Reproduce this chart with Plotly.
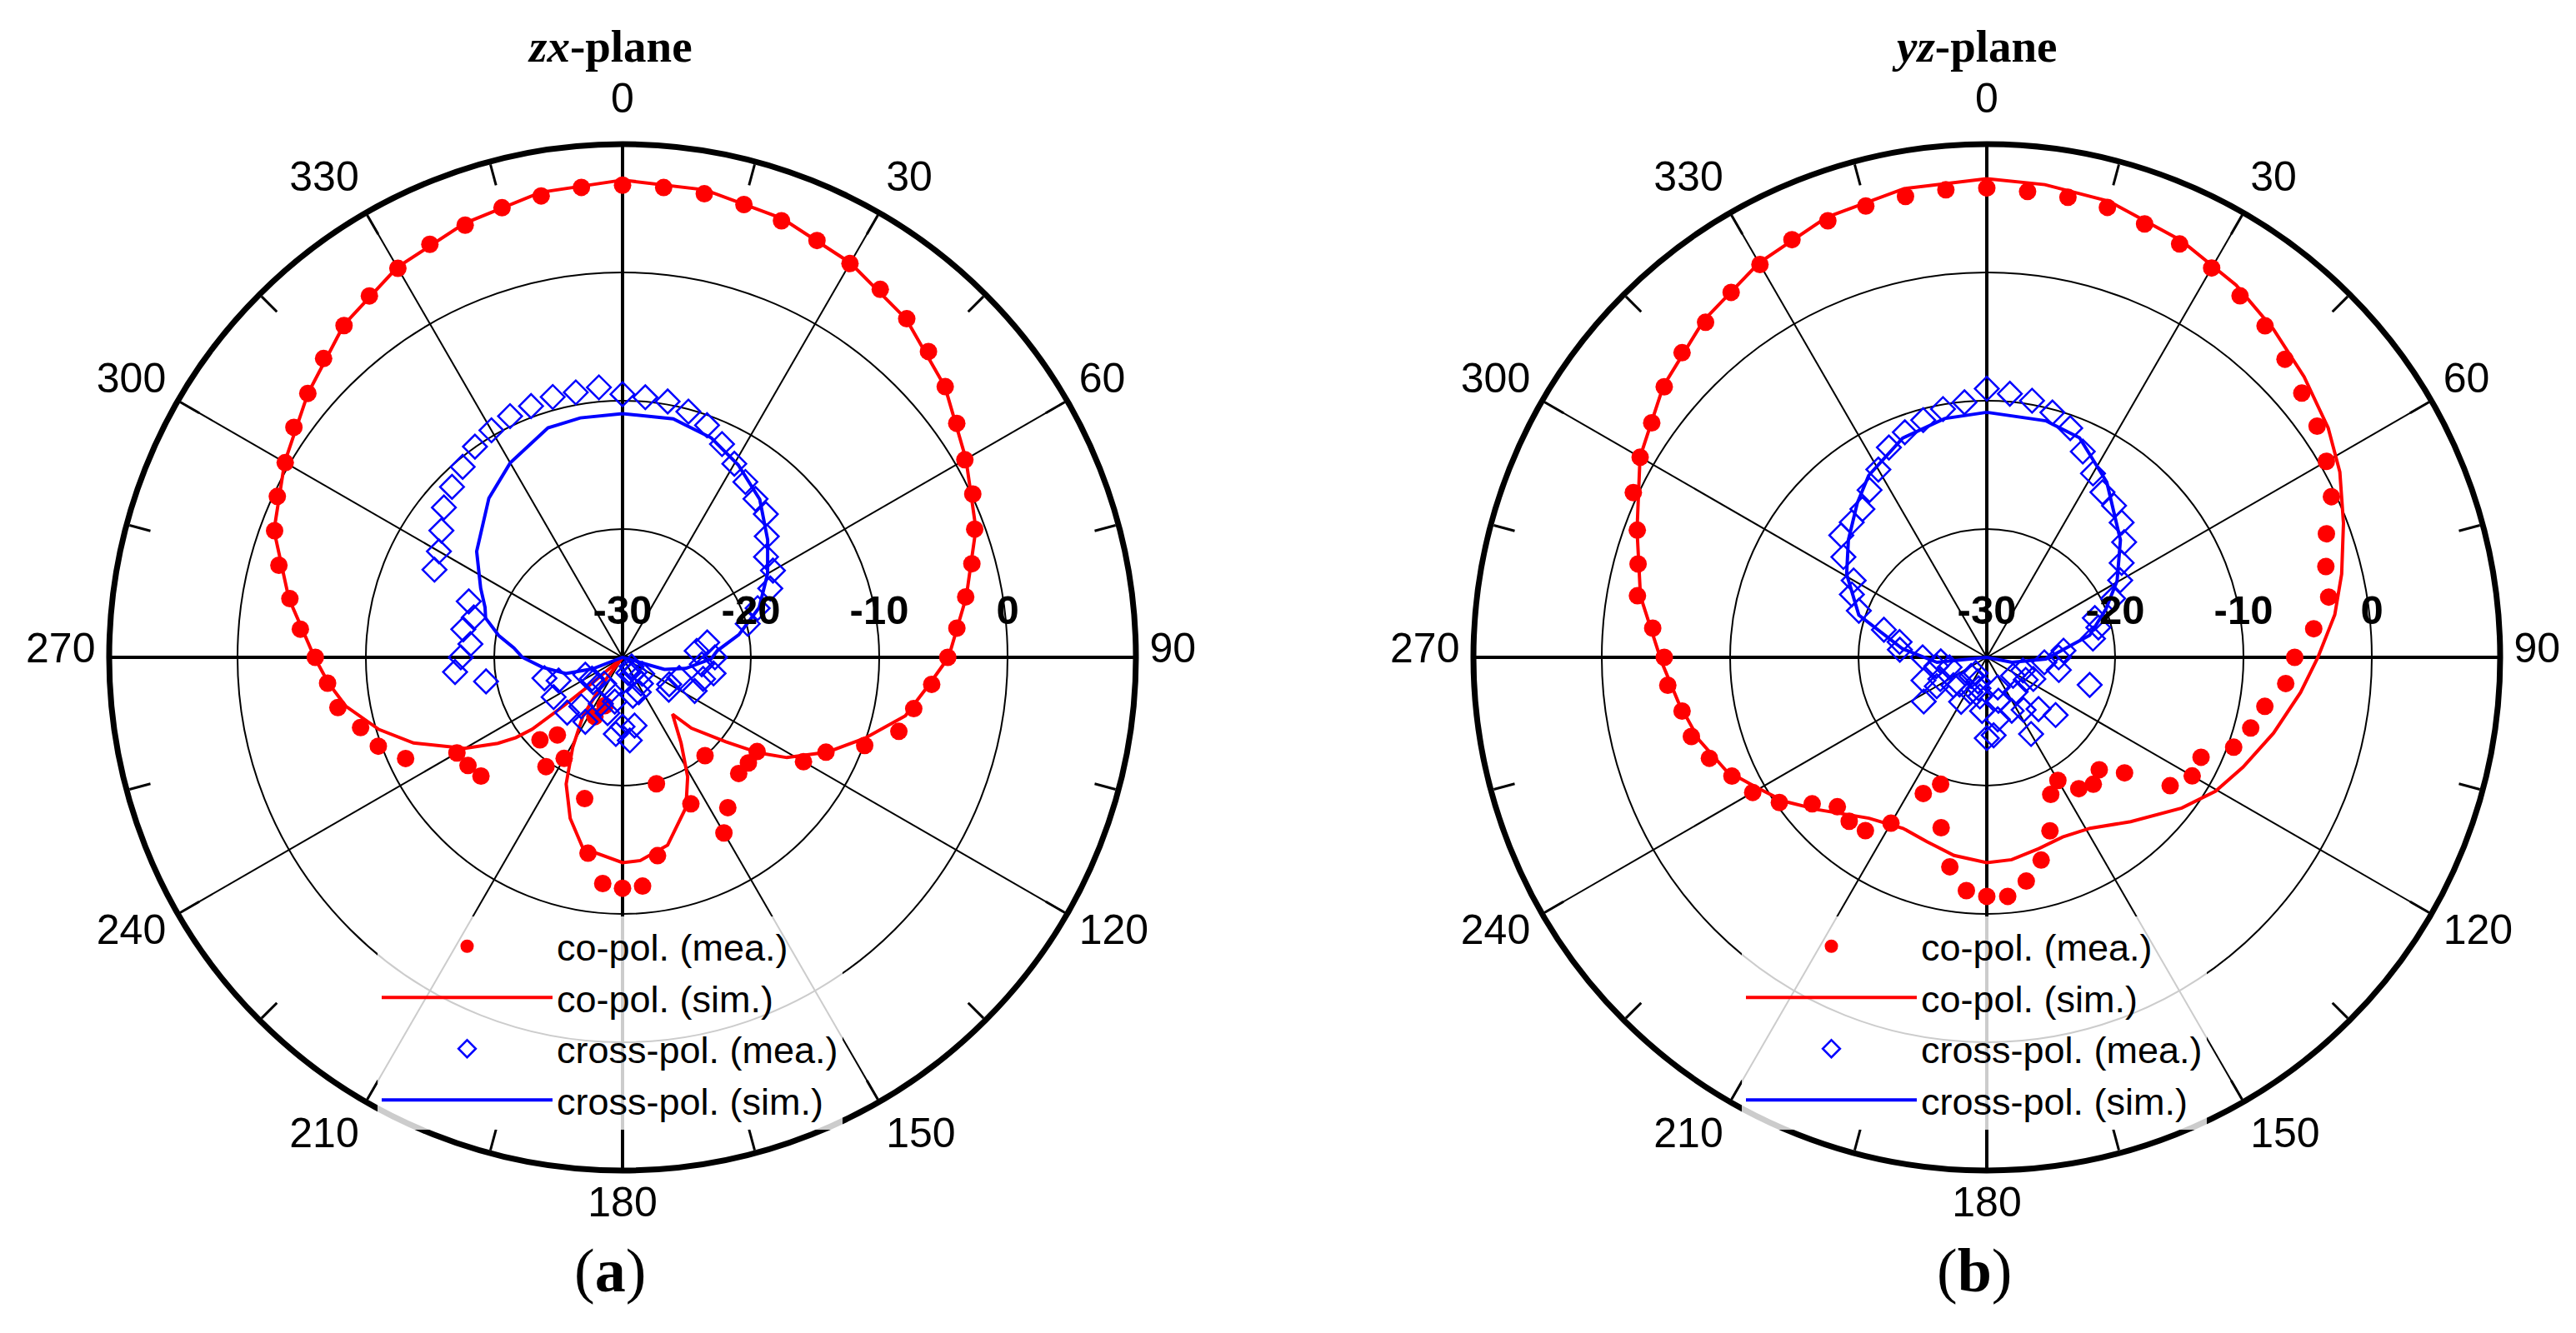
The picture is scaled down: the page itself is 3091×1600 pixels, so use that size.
import plotly.graph_objects as go

W, H = 3091, 1600
R = 616
CL = (739, 781)
CR = (2376, 781)
RMIN, RMAX = -30, 10
LABEL_LIFT = 12   # px: angular tick-label ring drawn slightly higher, as in the reference
LABEL_EXTRA = 16  # px: angular tick-label ring slightly larger than the plot ring

theta5 = list(range(0, 360, 5))

# ---------------- zx-plane (a) ----------------
zx_co_mea = [6.8, 6.76, 6.69, 6.54, 6.21, 5.85, 5.44, 5.01, 4.45, 3.71, 2.82, 1.79,
             0.80, 0.11, -0.80, -1.82, -2.85, -3.85, -4.66, -5.82, -6.96, -7.71, -9.92, -12.51,
             -13.72, -17.2, -17.2, -17.2, -20.0, -15.7, -14.2, -17.4, None, -19.8, -14.3, -12.1,
             -12.0, -12.3, -14.5, -18.6, -26.0, -24.9, -20.9, -19.6, -22.1, -20.9, -15.6, -15.3,
             -15.1, -11.35, -9.75, -8.87, -7.48, -6.93, -6.06, -4.80, -3.68, -2.28, -1.15, -0.32,
             0.35, 1.26, 2.01, 2.94, 3.76, 4.39, 5.01, 5.52, 5.85, 6.28, 6.52, 6.77]

zx_co_sim_theta = [0, 10, 20, 30, 40, 50, 60, 70, 80, 90, 95, 101.7, 108.5, 114.8, 121.4, 125,
                   129.3, 135.8, 138.7, 145.7, 151.4, 157.1, 166.5, 175, 180, 191.7, 198, 204,
                   209, 214, 217, 220, 228, 229.5, 230.5, 231.5, 233, 235.4, 240, 247.7, 253.5,
                   260, 265, 270, 280, 290, 300, 310, 320, 330, 340, 350, 360]
zx_co_sim = [7.2, 7.0, 6.4, 5.5, 4.4, 2.8, 0.9, -0.7, -2.8, -4.6, -6.0, -7.5, -10.1, -12.4,
             -15.0, -17.0, -19.6, -22.3, -24.1, -21.9, -19.4, -17.3, -14.95, -14.1, -14.0,
             -14.8, -16.8, -19.2, -22.0, -24.5, -27.5, -30, -30, -27.0, -24.0, -21.0, -19.6,
             -18.2, -15.8, -12.4, -10.2, -8.1, -7.0, -6.0, -3.6, -1.1, 0.4, 2.0, 3.8, 5.1,
             6.0, 6.8, 7.2]

zx_cx_mea = [-9.49, -9.65, -9.75, -10.17, -10.75, -11.66, -12.58, -13.31, -13.88, -14.21, -15.33, -16.35,
             -16.47, -17.3, -18.8, -19.9, -23.3, -24.2, -22.8, -23.8, -22.8, -23.5, -25.3, -23.8,
             -25.8, -25.6, -28.0, -29.0, -28.5, -27.5, -28.5, -27.0, -28.7, -26.9, -24.6, -23.5,
             -24.6, -24.0, -26.5, -25.5, -27.2, -26.0, -24.2, -27.5, -25.0, -23.9, -27.0, -27.1,
             -23.8, -26.8, -24.7, -23.7, -19.2, -16.9, -17.4, -18.1, -17.4, -18.0, -17.25, -13.83,
             -13.48, -12.77, -11.83, -11.21, -10.62, -9.95, -9.57, -9.26, -9.16, -8.99, -9.03, -8.88]

zx_cx_sim_theta = [0, 12, 22, 31, 41, 51, 60, 70, 79, 86, 91, 100, 106, 110, 245, 249, 254,
                   263, 270, 275, 280, 286, 290, 296, 306, 320, 330, 342, 350, 360]
zx_cx_sim = [-11.0, -11.0, -11.55, -12.5, -13.7, -15.45, -16.95, -18.67, -20.77, -22.6, -23.1,
             -25.0, -26.6, -30, -30, -27.5, -25.4, -23.7, -22.2, -21.5, -20.2, -18.9, -18.6,
             -17.7, -15.95, -13.8, -12.5, -11.2, -11.05, -11.0]

# ---------------- yz-plane (b) ----------------
yz_co_mea = [6.58, 6.45, 6.41, 6.31, 5.95, 5.55, 5.04, 4.40, 3.73, 2.86, 2.04, 1.42,
             0.55, -0.37, -1.84, -2.65, -2.95, -4.43, -6.01, -6.62, -8.0, -8.71, -9.53, -11.58,
             -11.52, -12.56, -15.99, -17.61, -17.09, -17.5, -18.92, -18.21, -15.61, -13.64, -12.29, -11.3,
             -11.37, -11.75, -13.42, -16.25, -19.48, -18.29, -15.07, -13.51, -13.32, -13.53, -12.24, -10.27,
             -8.94, -8.09, -7.0, -6.17, -5.89, -5.05, -4.87, -3.87, -2.36, -1.87, -1.02, 0.39,
             1.19, 1.87, 2.81, 3.58, 4.09, 4.73, 5.35, 5.92, 6.21, 6.42, 6.48, 6.58]

yz_co_sim_theta = [0, 7, 15, 25, 33.8, 41.1, 48.5, 56.1, 62.3, 69.4, 76.8, 83, 90, 96.4, 104.8,
                   113.2, 120.3, 127.7, 138.8, 148.9, 157.1, 164.8, 173, 180, 189.4, 198, 206.1,
                   216.2, 227.9, 234.6, 240.5, 246.5, 254, 261.6, 269.2, 280, 290, 300, 310, 320,
                   330, 340, 350, 360]
yz_co_sim = [7.3, 7.12, 6.8, 5.84, 4.92, 3.96, 3.01, 2.05, 1.07, -0.31, -1.6, -2.68, -4.2, -5.4,
             -6.89, -8.28, -9.34, -10.8, -12.98, -14.44, -14.8, -14.55, -14.11, -14.0, -14.35,
             -14.9, -15.16, -14.46, -12.29, -10.63, -9.4, -7.85, -6.67, -5.73, -4.66, -2.6, -1.0,
             1.2, 2.9, 4.3, 5.5, 6.5, 7.1, 7.3]

yz_cx_mea = [-9.06, -9.38, -9.69, -10.24, -10.99, -12.3, -13.45, -14.29, -14.57, -15.14, -16.03, -17.17,
             -18.0, -19.14, -21.04, -21.0, -21.6, -24.0, -24.4, -25.5, -24.3, -21.7, -27.0, -26.0,
             -26.5, -27.5, -23.0, -24.3, -26.5, -25.0, -23.1, -25.4, -27.5, -26.5, -25.1, -23.9,
             -23.7, -25.8, -26.9, -27.5, -28.0, -27.0, -26.0, -28.5, -28.1, -27.0, -26.6, -24.0,
             -25.5, -26.0, -24.75, -27.0, -26.0, -26.4, -25.0, -23.2, -23.1, -21.7, -19.39, -18.4,
             -18.02, -16.36, -15.2, -15.12, -14.92, -14.08, -13.1, -11.95, -11.33, -10.86, -10.35, -10.05]

yz_cx_sim_theta = [0, 14, 22.9, 34.4, 48.7, 59.6, 68, 77.9, 91.6, 101, 108, 258, 264.2, 275.8,
                   288.3, 300.7, 310.3, 320, 327, 339, 350, 360]
yz_cx_sim = [-10.9, -11.0, -11.43, -13.45, -16.14, -18.23, -20.0, -21.8, -25.4, -28.0, -30, -30,
             -26.1, -23.4, -19.5, -17.3, -15.86, -14.3, -13.1, -11.7, -11.1, -10.9]

ang_ticks = list(range(0, 360, 30))
ang_ticktext = [str(a) for a in ang_ticks]
minor_ticks = list(range(0, 360, 15))
rad_ticks = [-30, -20, -10, 0]
rad_text = ["-30", "-20", "-10", "0"]
legend_names = ["co-pol. (mea.)", "co-pol. (sim.)", "cross-pol. (mea.)", "cross-pol. (sim.)"]

RED = "#FF0000"
BLUE = "#0000FF"
SANS = "Liberation Sans, Arial, sans-serif"
SERIF = "Liberation Serif, Times New Roman, serif"


def dom(c, lift=0, extra=0):
    cx, cy = c
    cy = cy - lift
    r = R + extra
    return dict(x=[(cx - r) / W, (cx + r) / W], y=[(H - cy - r) / H, (H - cy + r) / H])


fig = go.Figure()


def add_dummy(sp):
    fig.add_trace(go.Scatterpolar(r=[], theta=[], subplot=sp, showlegend=False, hoverinfo="skip"))


for sp in ["polar", "polar2", "polar3", "polar4", "polar7", "polar8"]:
    add_dummy(sp)


def add_data(sp, lg, co_sim_t, co_sim, co_mea, cx_sim_t, cx_sim, cx_mea):
    fig.add_trace(go.Scatterpolar(theta=co_sim_t, r=co_sim, mode="lines", name=legend_names[1],
                                  line=dict(color=RED, width=4), subplot=sp, legend=lg, legendrank=2))
    fig.add_trace(go.Scatterpolar(theta=theta5, r=co_mea, mode="markers", name=legend_names[0],
                                  marker=dict(symbol="circle", size=21, color=RED), subplot=sp,
                                  legend=lg, legendrank=1))
    fig.add_trace(go.Scatterpolar(theta=cx_sim_t, r=cx_sim, mode="lines", name=legend_names[3],
                                  line=dict(color=BLUE, width=4), subplot=sp, legend=lg, legendrank=4))
    fig.add_trace(go.Scatterpolar(theta=theta5, r=cx_mea, mode="markers", name=legend_names[2],
                                  marker=dict(symbol="diamond-open", size=22, color=BLUE,
                                              line=dict(color=BLUE, width=2.5)),
                                  subplot=sp, legend=lg, legendrank=3))


add_data("polar5", "legend", zx_co_sim_theta, zx_co_sim, zx_co_mea, zx_cx_sim_theta, zx_cx_sim, zx_cx_mea)
add_data("polar6", "legend2", yz_co_sim_theta, yz_co_sim, yz_co_mea, yz_cx_sim_theta, yz_cx_sim, yz_cx_mea)


def spoke_polar(c, vals, gw, bg):
    return dict(
        domain=dom(c), bgcolor=bg,
        angularaxis=dict(rotation=90, direction="clockwise", tickvals=vals, showgrid=True,
                         gridcolor="black", gridwidth=gw, showticklabels=False, ticks="",
                         showline=False),
        radialaxis=dict(range=[RMIN, RMAX], showgrid=False, showticklabels=False, ticks="",
                        showline=False),
    )


def label_polar(c):
    return dict(
        domain=dom(c, LABEL_LIFT, LABEL_EXTRA), bgcolor="rgba(0,0,0,0)",
        angularaxis=dict(rotation=90, direction="clockwise", tickvals=ang_ticks, ticktext=ang_ticktext,
                         showgrid=False, showline=False, ticks="", showticklabels=True,
                         tickfont=dict(family=SANS, size=50, color="black")),
        radialaxis=dict(range=[RMIN, RMAX], showgrid=False, showticklabels=False, ticks="",
                        showline=False),
    )


def main_polar(c):
    return dict(
        domain=dom(c), bgcolor="rgba(0,0,0,0)",
        angularaxis=dict(rotation=90, direction="clockwise", tickvals=minor_ticks,
                         showticklabels=False,
                         showgrid=False, ticks="inside", ticklen=26, tickwidth=3, tickcolor="black",
                         showline=True, linecolor="black", linewidth=7),
        radialaxis=dict(range=[RMIN, RMAX], tickvals=rad_ticks, ticktext=rad_text, angle=0,
                        side="counterclockwise", showgrid=True, gridcolor="black", gridwidth=2,
                        showline=False, ticks="outside", ticklen=20, tickcolor="rgba(0,0,0,0)",
                        tickfont=dict(family=SANS, size=49, color="black", weight="bold")),
    )


legend_common = dict(bgcolor="rgba(255,255,255,0.8)", borderwidth=0,
                     font=dict(family=SANS, size=45, color="black"),
                     itemwidth=205, xanchor="left", yanchor="top", tracegroupgap=0)

fig.update_layout(
    width=W, height=H, margin=dict(l=0, r=0, t=0, b=0),
    paper_bgcolor="white", plot_bgcolor="white",
    polar=spoke_polar(CL, ang_ticks, 2, "white"),
    polar2=spoke_polar(CR, ang_ticks, 2, "white"),
    polar3=spoke_polar(CL, [0, 90, 180, 270], 3.5, "rgba(0,0,0,0)"),
    polar4=spoke_polar(CR, [0, 90, 180, 270], 3.5, "rgba(0,0,0,0)"),
    polar5=main_polar(CL),
    polar6=main_polar(CR),
    polar7=label_polar(CL),
    polar8=label_polar(CR),
    legend=dict(x=445 / W, y=1 - 1092 / H, **legend_common),
    legend2=dict(x=2082 / W, y=1 - 1092 / H, **legend_common),
    annotations=[
        dict(text="<b><i>zx</i>-plane</b>", x=724 / W, y=1 - 47 / H, xref="paper", yref="paper",
             showarrow=False, font=dict(family=SERIF, size=55, color="black"), xanchor="center", yanchor="middle"),
        dict(text="<b><i>yz</i>-plane</b>", x=2361 / W, y=1 - 47 / H, xref="paper", yref="paper",
             showarrow=False, font=dict(family=SERIF, size=55, color="black"), xanchor="center", yanchor="middle"),
        dict(text="(<b>a</b>)", x=724 / W, y=1 - 1517 / H, xref="paper", yref="paper",
             showarrow=False, font=dict(family=SERIF, size=74, color="black"), xanchor="center", yanchor="middle"),
        dict(text="(<b>b</b>)", x=2361 / W, y=1 - 1517 / H, xref="paper", yref="paper",
             showarrow=False, font=dict(family=SERIF, size=74, color="black"), xanchor="center", yanchor="middle"),
    ],
)

fig.write_html("out.html")
